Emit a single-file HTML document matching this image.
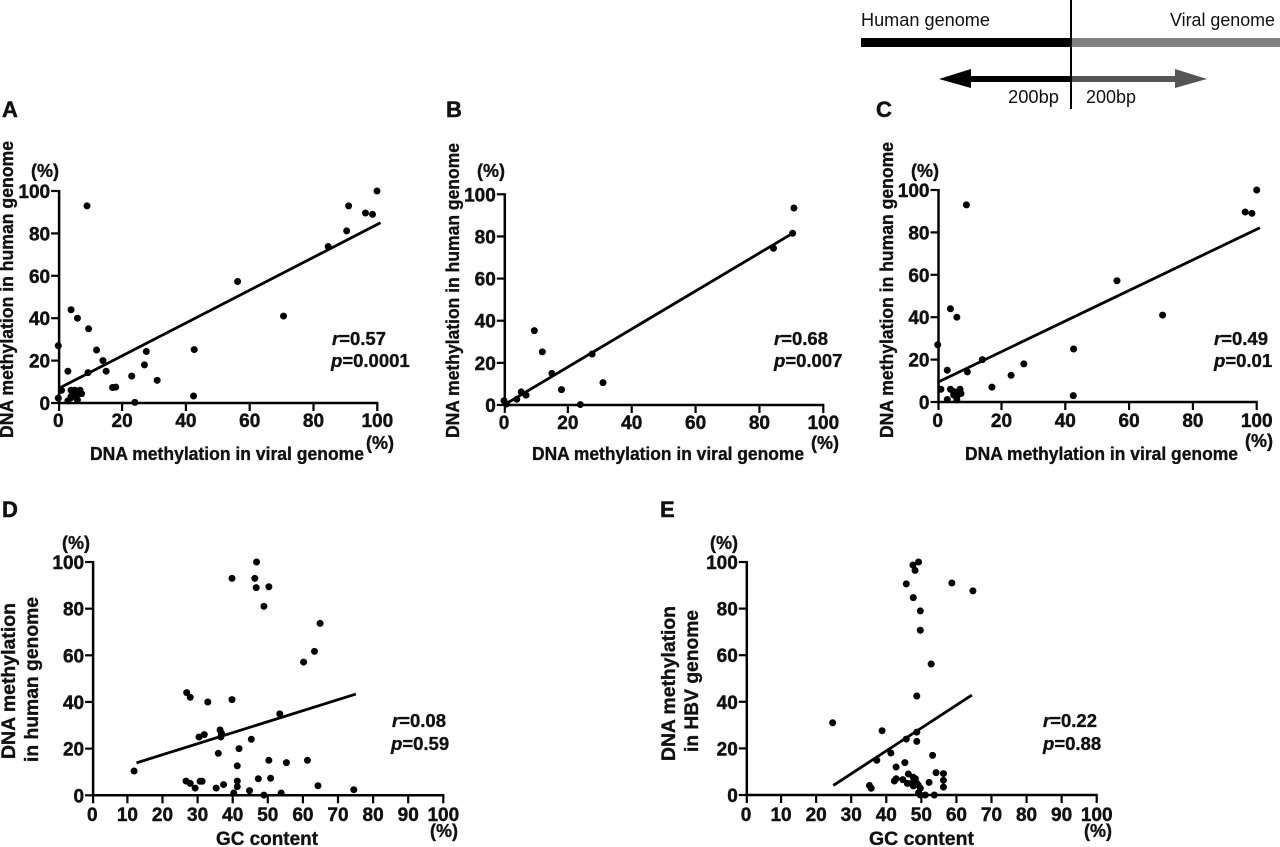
<!DOCTYPE html>
<html lang="en">
<head>
<meta charset="utf-8">
<title>DNA methylation scatter plots</title>
<style>
html,body{margin:0;padding:0;background:#fff;}
svg{display:block;}
text{font-family:"Liberation Sans",sans-serif;fill:#111;}
.tick{font-size:19px;font-weight:700;stroke:#111;stroke-width:.45px;}
.title{font-size:18px;font-weight:700;stroke:#111;stroke-width:.35px;}
.title2{font-size:19px;font-weight:700;stroke:#111;stroke-width:.35px;}
.unit{font-size:18px;font-weight:700;text-anchor:middle;stroke:#111;stroke-width:.35px;}
.stat{font-size:18.5px;font-weight:700;stroke:#111;stroke-width:.35px;}
.letter{font-size:22px;font-weight:700;stroke:#111;stroke-width:.5px;}
.schem{font-size:18px;}
</style>
</head>
<body>
<svg id="figure" width="1280" height="847" viewBox="0 0 1280 847" xmlns="http://www.w3.org/2000/svg">
  <rect x="0" y="0" width="1280" height="847" fill="#fff"/>

  <g>
    <rect x="861" y="38" width="210" height="9" fill="#000"/>
    <rect x="1071" y="38" width="209" height="9" fill="#808080"/>
    <rect x="970" y="76" width="101" height="6" fill="#000"/>
    <polygon points="939,79 971,69 971,88" fill="#000"/>
    <rect x="1071" y="76" width="105" height="6" fill="#555"/>
    <polygon points="1207,79 1175,69 1175,88" fill="#555"/>
    <rect x="1070" y="0" width="2" height="109" fill="#000"/>
    <text class="schem" x="861" y="26" textLength="129" lengthAdjust="spacingAndGlyphs">Human genome</text>
    <text class="schem" x="1170" y="26" textLength="105" lengthAdjust="spacingAndGlyphs">Viral genome</text>
    <text class="schem" x="1008" y="103" textLength="51" lengthAdjust="spacingAndGlyphs">200bp</text>
    <text class="schem" x="1086" y="103" textLength="50" lengthAdjust="spacingAndGlyphs">200bp</text>
  </g>

  <g id="panel-a">
    <text class="letter" x="2" y="117">A</text>
    <text class="title" transform="translate(13,438) rotate(-90)" textLength="297" lengthAdjust="spacingAndGlyphs">DNA methylation in human genome</text>
    <text class="title" x="90" y="460" textLength="274" lengthAdjust="spacingAndGlyphs">DNA methylation in viral genome</text>
    <text class="unit" x="45" y="177">(%)</text>
    <text class="unit" x="380" y="449">(%)</text>
    <text class="stat" x="332" y="345"><tspan font-style="italic">r</tspan>=0.57</text>
    <text class="stat" x="331" y="367"><tspan font-style="italic">p</tspan>=0.0001</text>
  </g>

  <g id="panel-b">
    <text class="letter" x="446" y="117">B</text>
    <text class="title" transform="translate(459,438) rotate(-90)" textLength="295" lengthAdjust="spacingAndGlyphs">DNA methylation in human genome</text>
    <text class="title" x="532" y="460" textLength="272" lengthAdjust="spacingAndGlyphs">DNA methylation in viral genome</text>
    <text class="unit" x="491" y="177">(%)</text>
    <text class="unit" x="825" y="449">(%)</text>
    <text class="stat" x="774" y="345"><tspan font-style="italic">r</tspan>=0.68</text>
    <text class="stat" x="774" y="367"><tspan font-style="italic">p</tspan>=0.007</text>
  </g>

  <g id="panel-c">
    <text class="letter" x="876" y="117">C</text>
    <text class="title" transform="translate(893,438) rotate(-90)" textLength="296" lengthAdjust="spacingAndGlyphs">DNA methylation in human genome</text>
    <text class="title" x="965" y="460" textLength="273" lengthAdjust="spacingAndGlyphs">DNA methylation in viral genome</text>
    <text class="unit" x="925" y="177">(%)</text>
    <text class="unit" x="1259" y="447">(%)</text>
    <text class="stat" x="1214" y="345"><tspan font-style="italic">r</tspan>=0.49</text>
    <text class="stat" x="1214" y="367"><tspan font-style="italic">p</tspan>=0.01</text>
  </g>

  <g id="panel-d">
    <text class="letter" x="2" y="517">D</text>
    <text class="title2" transform="translate(15,759) rotate(-90)" textLength="156" lengthAdjust="spacingAndGlyphs">DNA methylation</text>
    <text class="title2" transform="translate(38,762) rotate(-90)" textLength="165" lengthAdjust="spacingAndGlyphs">in human genome</text>
    <text class="title2" x="216" y="845" textLength="102" lengthAdjust="spacingAndGlyphs">GC content</text>
    <text class="unit" x="76" y="549">(%)</text>
    <text class="unit" x="444" y="837">(%)</text>
    <text class="stat" x="392" y="727"><tspan font-style="italic">r</tspan>=0.08</text>
    <text class="stat" x="391" y="750"><tspan font-style="italic">p</tspan>=0.59</text>
  </g>

  <g id="panel-e">
    <text class="letter" x="660" y="517">E</text>
    <text class="title2" transform="translate(675,761) rotate(-90)" textLength="155" lengthAdjust="spacingAndGlyphs">DNA methylation</text>
    <text class="title2" transform="translate(698,752) rotate(-90)" textLength="142" lengthAdjust="spacingAndGlyphs">in HBV genome</text>
    <text class="title2" x="869" y="845" textLength="105" lengthAdjust="spacingAndGlyphs">GC content</text>
    <text class="unit" x="724" y="549">(%)</text>
    <text class="unit" x="1098" y="837">(%)</text>
    <text class="stat" x="1043" y="727"><tspan font-style="italic">r</tspan>=0.22</text>
    <text class="stat" x="1043" y="750"><tspan font-style="italic">p</tspan>=0.88</text>
  </g>
</svg>

<script>
const ticksY = [0, 20, 40, 60, 80, 100];
const ticksXViral = [0, 20, 40, 60, 80, 100];
const ticksXGC = [0, 10, 20, 30, 40, 50, 60, 70, 80, 90, 100];

const panelAX = [0,0,1,3,4,6,9,9.5,12,14,15,9.3,17,18,23,27,27.6,31,24,42.4,42.6,56.2,70.6,84.6,90.4,91,96.3,98.5,99.9,3,4,4,5.2,6,5,6.8,7.3,6.3,4.8,4];
const panelAY = [27,2.3,6,15,44,40,93,35,25,20,15,14.3,7.3,7.5,12.7,18,24.3,10.7,0.3,3.3,25.2,57.3,41,73.8,81.2,93,89.6,89,100,1,6,2.5,6,1.5,4,6,4.4,4.4,4.7,3];
const trendAX = [0.3, 101];
const trendAY = [7, 85];

const panelBX = [0,0.8,4,5.4,6.9,9.5,12,15,18,23.9,27.6,31,84.4,90.4,90.8];
const panelBY = [2,0.5,2.7,6.2,4.7,35.3,25.2,15,7.3,0.2,24.2,10.6,74.4,81.5,93.5];
const trendBX = [0, 90.4];
const trendBY = [0, 81.5];

const panelCX = [0,1,3,4,6,9,9.3,14,17,23,27,42.6,42.5,56.2,70.5,96.4,98.5,100,3,4,5,5,6,6,7,7.3,6.5];
const panelCY = [27,6,15,44,40,93,14.2,20,7,12.6,18,25,3,57.2,41,89.6,89,100,1.2,6,4.9,3.3,2.4,1,6,4,4.9];
const trendCX = [0, 101];
const trendCY = [9.3, 82.2];

const panelDX = [11.9,26.9,27.9,32.9,39.8,39.8,46.3,46.7,46.8,50.3,48.9,64.9,63.3,60.2,53.4,45.3,41.8,41.3,50.3,55.3,61.3,36.4,36.8,36.6,31.9,30.4,35.9,26.7,27.9,29.3,30.7,31.3,35.3,37.4,41.3,41.3,47.3,50.8,44.8,40.3,48.9,53.8,64.3,74.5];
const panelDY = [10.4,44,42,40,41,93,93,89,100,89.4,81,73.7,61.7,57.1,34.9,24,20,12.6,15,14,15,28,26.6,25,26,25,18,6.1,5.1,3.1,6,6,3.1,4.6,6.1,3.7,7.1,7.3,2,1,0.1,1,4.1,2.4];
const trendDX = [12.6, 75.1];
const trendDY = [13.9, 43.4];

const panelEX = [24.7,38.8,37.3,41.3,42.8,45.3,45.7,48.7,48.7,48.7,52.8,53.2,49.7,49.7,47.7,45.7,58.7,64.7,48.2,47.6,49.2,35.2,35.7,42.3,42.8,44.7,46.3,46,47.2,47.7,48.3,47.7,48.7,49.1,49.7,49.2,49.7,51.1,53.7,52.2,54.2,56.3,56.3,56.3];
const panelEY = [31,27.6,14.9,18,12,13.9,24,27,23,42.5,56.2,17,70.7,79,84.7,90.6,91,87.6,96.4,98.7,100,4.1,2.9,6,7,6.6,9,5,5,7.6,7,3.9,5,4.3,2.9,1,0,0,0,5.4,9.6,9.2,6.3,3.4];
const trendEX = [24.9, 64.4];
const trendEY = [4.1, 42.9];

const NS = 'http://www.w3.org/2000/svg';

function make(tag, props) {
  const el = document.createElementNS(NS, tag);
  for (const k in props) el.setAttribute(k, props[k]);
  return el;
}

function drawPanel(cfg) {
  const root = document.getElementById(cfg.id);
  const sx = v => cfg.x0 + (v / 100) * (cfg.x100 - cfg.x0);
  const sy = v => cfg.y0 - (v / 100) * (cfg.y0 - cfg.y100);
  const axisX = sx(0) + 0.8;

  const yAxis = make('line', {x1: axisX, x2: axisX, y1: sy(0) + 1, y2: sy(100) - 1, stroke: '#000', 'stroke-width': 2.5});
  
  
  root.appendChild(yAxis);

  const xAxis = make('line', {x1: axisX - 1, x2: sx(100) + 1, y1: sy(0), y2: sy(0), stroke: '#000', 'stroke-width': 2.5});
  
  
  root.appendChild(xAxis);

  cfg.ticksY.forEach(v => {
    const tick = make('line', {x1: axisX - 8, x2: axisX, y1: sy(v), y2: sy(v), stroke: '#000', 'stroke-width': 2.2});
    
    
    root.appendChild(tick);
    const label = make('text', {x: axisX - 9, y: sy(v) + 7, 'text-anchor': 'end', 'class': 'tick'});
    
    
    label.textContent = v;
    root.appendChild(label);
  });

  cfg.ticksX.forEach(v => {
    const tx = v === 0 ? axisX : sx(v);
    const tick = make('line', {x1: tx, x2: tx, y1: sy(0), y2: sy(0) + 8, stroke: '#000', 'stroke-width': 2.2});
    
    
    root.appendChild(tick);
    const label = make('text', {x: sx(v), y: cfg.tickBase, 'text-anchor': 'middle', 'class': 'tick'});
    
    
    label.textContent = v;
    root.appendChild(label);
  });

  cfg.xs.forEach((v, i) => {
    const dot = make('circle', {cx: sx(v), cy: sy(cfg.ys[i]), r: 3.5, fill: '#000'});
    
    
    root.appendChild(dot);
  });

  const trend = make('line', {x1: sx(cfg.lineX[0]), y1: sy(cfg.lineY[0]), x2: sx(cfg.lineX[1]), y2: sy(cfg.lineY[1]), stroke: '#000', 'stroke-width': 2.8});
  
  
  root.appendChild(trend);
}

drawPanel({id: 'panel-a', x0: 58.3, x100: 377.3, y0: 403, y100: 191, tickBase: 427, ticksX: ticksXViral, ticksY: ticksY, xs: panelAX, ys: panelAY, lineX: trendAX, lineY: trendAY});
drawPanel({id: 'panel-b', x0: 504, x100: 823.3, y0: 405, y100: 194.3, tickBase: 429, ticksX: ticksXViral, ticksY: ticksY, xs: panelBX, ys: panelBY, lineX: trendBX, lineY: trendBY});
drawPanel({id: 'panel-c', x0: 937.7, x100: 1256.7, y0: 402, y100: 190, tickBase: 427, ticksX: ticksXViral, ticksY: ticksY, xs: panelCX, ys: panelCY, lineX: trendCX, lineY: trendCY});
drawPanel({id: 'panel-d', x0: 92.3, x100: 443.3, y0: 795.3, y100: 562, tickBase: 821, ticksX: ticksXGC, ticksY: ticksY, xs: panelDX, ys: panelDY, lineX: trendDX, lineY: trendDY});
drawPanel({id: 'panel-e', x0: 746, x100: 1096.7, y0: 795, y100: 562, tickBase: 821, ticksX: ticksXGC, ticksY: ticksY, xs: panelEX, ys: panelEY, lineX: trendEX, lineY: trendEY});
</script>
</body>
</html>
